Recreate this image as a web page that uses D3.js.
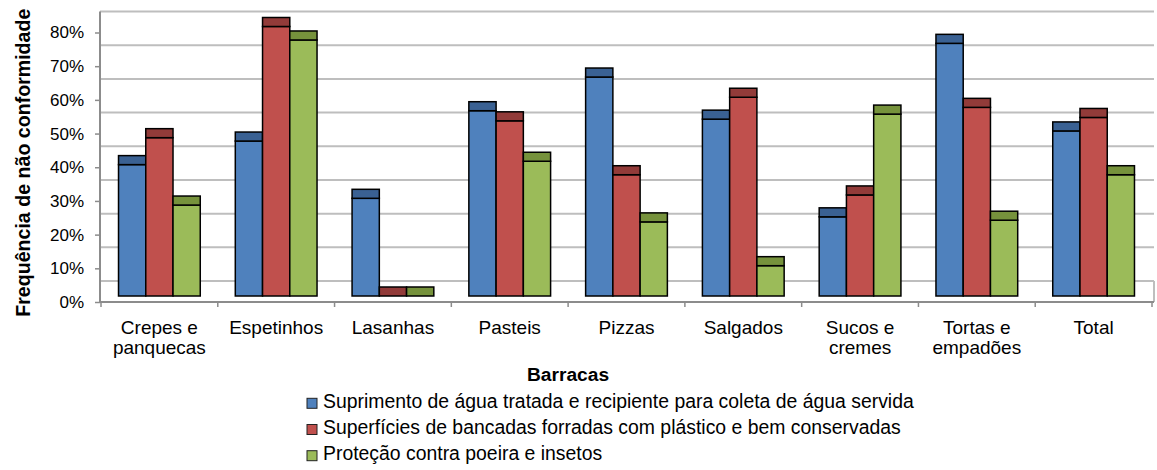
<!DOCTYPE html>
<html>
<head>
<meta charset="utf-8">
<script src="https://cdn.jsdelivr.net/npm/d3@7"></script>
<style>
  html, body { margin: 0; padding: 0; background: #ffffff; }
  svg { display: block; font-family: "Liberation Sans", Arial, sans-serif; }
</style>
</head>
<body>
<svg id="chart" width="1157" height="470"></svg>
<script>
// ---- Data ----
const categories = ["Crepes e panquecas", "Espetinhos", "Lasanhas", "Pasteis", "Pizzas", "Salgados", "Sucos e cremes", "Tortas e empadões", "Total"];
const categoryLines = [["Crepes e", "panquecas"], ["Espetinhos"], ["Lasanhas"], ["Pasteis"], ["Pizzas"], ["Salgados"], ["Sucos e", "cremes"], ["Tortas e", "empadões"], ["Total"]];
const seriesNames = [
  "Suprimento de água tratada e recipiente para coleta de água servida",
  "Superfícies de bancadas forradas com plástico e bem conservadas",
  "Proteção contra poeira e insetos"
];
const agua = [39, 46, 29, 55, 65, 52.5, 23.5, 75, 49];
const superficies = [47, 80, 0, 52, 36, 59, 30, 56, 53];
const protecao = [27, 76, 0, 40, 22, 9, 54, 22.5, 36];
const tickValues = [0, 10, 20, 30, 40, 50, 60, 70, 80];
const tickLabels = ["0%", "10%", "20%", "30%", "40%", "50%", "60%", "70%", "80%"];
const yTitle = "Frequência de não conformidade";
const xTitle = "Barracas";

// ---- Styles ----
const faceColors = ["#4F81BD", "#C0504D", "#9BBB59"];
const capColors = ["#3A6193", "#923B39", "#76923C"];
const gridColor = "#BEBEBE";
const axisColor = "#8C8C8C";

const seriesValues = [agua, superficies, protecao];
const svg = d3.select("#chart");

// ---- Scales ----
const left = 101, right = 1152;
const x = d3.scaleBand().domain(categories).range([left, right]).paddingInner(0.3).paddingOuter(0.15);
const xs = d3.scaleBand().domain([0, 1, 2]).range([0, x.bandwidth()]);
const y = d3.scaleLinear().domain([0, 80]).range([302, 32.5]);
const backOff = -21, frontOff = -6, capOff = -15;

// ---- Back wall gridlines ----
svg.append("g").selectAll("line").data(tickValues).join("line")
  .attr("x1", 100).attr("x2", 1154)
  .attr("y1", d => y(d) + backOff).attr("y2", d => y(d) + backOff)
  .attr("stroke", gridColor).attr("stroke-width", 2);

// floor right edge
svg.append("line").attr("x1", 1154).attr("x2", 1154)
  .attr("y1", y(0) + backOff).attr("y2", y(0))
  .attr("stroke", gridColor).attr("stroke-width", 2);

// left wall / axis line
svg.append("line").attr("x1", 100).attr("x2", 100)
  .attr("y1", y(80) + backOff).attr("y2", y(0))
  .attr("stroke", axisColor).attr("stroke-width", 2);

// ---- Y axis ticks & labels ----
const yAxis = d3.axisLeft(y).tickValues(tickValues).tickFormat((d, i) => tickLabels[i]).tickSize(5).tickPadding(11);
const gy = svg.append("g").attr("transform", "translate(100,0)").call(yAxis);
gy.select(".domain").remove();
gy.selectAll(".tick line").attr("stroke", axisColor).attr("stroke-width", 1.5);
gy.selectAll(".tick text").attr("font-size", 17).attr("fill", "#000")
  .attr("font-family", "'Liberation Sans', Arial, sans-serif");

// ---- Bars ----
const groups = svg.append("g").selectAll("g").data(categories).join("g")
  .attr("transform", d => `translate(${x(d)},0)`);
groups.each(function(cat, ci) {
  const g = d3.select(this);
  seriesValues.forEach((vals, si) => {
    const v = vals[ci];
    const bx = xs(si), bw = xs.bandwidth();
    const baseY = y(0) + frontOff;
    const topY = y(v) + frontOff;
    const capY = y(v) + capOff;
    if (baseY - topY > 0) {
      g.append("rect").attr("x", bx).attr("y", topY).attr("width", bw).attr("height", baseY - topY)
        .attr("fill", faceColors[si]).attr("stroke", "#000").attr("stroke-width", 1.5);
    }
    g.append("rect").attr("x", bx).attr("y", capY).attr("width", bw).attr("height", topY - capY)
      .attr("fill", capColors[si]).attr("stroke", "#000").attr("stroke-width", 1.5);
  });
});

// ---- Front X axis ----
svg.append("line").attr("x1", 100).attr("x2", 1154).attr("y1", y(0)).attr("y2", y(0))
  .attr("stroke", axisColor).attr("stroke-width", 2);
const boundaries = categories.map(c => x(c) - x.step() * 0.15).concat([right]);
svg.append("g").selectAll("line").data(boundaries).join("line")
  .attr("x1", d => d).attr("x2", d => d).attr("y1", y(0)).attr("y2", y(0) + 5)
  .attr("stroke", axisColor).attr("stroke-width", 1.5);

// category labels
const lab = svg.append("g").selectAll("text").data(categories).join("text")
  .attr("x", d => x(d) + x.bandwidth() / 2).attr("y", 334)
  .attr("text-anchor", "middle").attr("font-size", 19).attr("fill", "#000");
lab.each(function(d, i) {
  const t = d3.select(this);
  categoryLines[i].forEach((line, li) => {
    t.append("tspan").attr("x", x(d) + x.bandwidth() / 2).attr("y", 334 + li * 19.5).text(line);
  });
});

// ---- Axis titles ----
svg.append("text").attr("x", 568).attr("y", 380.7).attr("text-anchor", "middle")
  .attr("font-size", 19.2).attr("font-weight", "bold").text(xTitle);
svg.append("text").attr("transform", "translate(30,162.7) rotate(-90)").attr("text-anchor", "middle")
  .attr("font-size", 19.6).attr("font-weight", "bold").text(yTitle);

// ---- Legend ----
const legend = svg.append("g").selectAll("g").data(seriesNames).join("g")
  .attr("transform", (d, i) => `translate(307,${398.3 + i * 26.2})`);
legend.append("rect").attr("width", 10).attr("height", 10)
  .attr("fill", (d, i) => faceColors[i]).attr("stroke", "#222").attr("stroke-width", 1);
legend.append("text").attr("x", 16).attr("y", 9.4).attr("font-size", 19.4).attr("fill", "#000").text(d => d);
</script>
</body>
</html>
